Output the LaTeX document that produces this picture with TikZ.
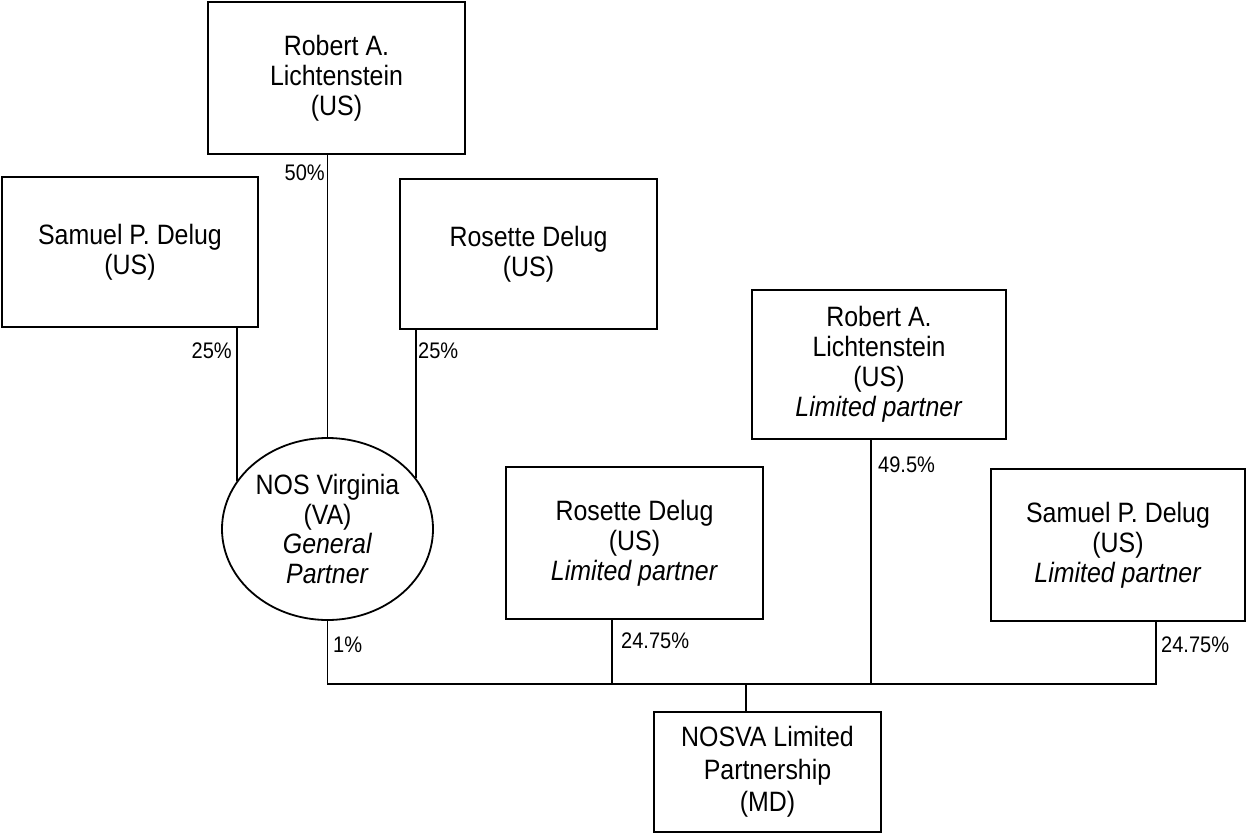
\documentclass[tikz,border=0pt]{standalone}
\usepackage{fontspec}
\setmainfont{Liberation Sans}[FakeStretch=0.89]
\usetikzlibrary{shapes.geometric}
\begin{document}
\begin{tikzpicture}[x=1pt,y=-1pt,
  entity/.style={draw,line width=1.8pt,rectangle,inner sep=0pt,align=center,
    font=\fontsize{28}{30}\selectfont},
  gpshape/.style={draw,line width=1.8pt,ellipse,inner sep=0pt,align=center,
    font=\fontsize{28}{29.5}\selectfont,minimum width=211pt,minimum height=182pt},
  pct/.style={font=\fontsize{22.5}{26}\selectfont,inner sep=0pt},
  link/.style={line width=1.8pt}]
\fill[white] (0,0) rectangle (1247,834);
\useasboundingbox (0,0) rectangle (1247,834);

% owners of the general partner
\node[entity,minimum width=257pt,minimum height=152pt] (robT) at (336.5,78)
  {Robert A.\\Lichtenstein\\(US)};
\node[entity,minimum width=256pt,minimum height=150pt] (samT) at (130,252)
  {Samuel P. Delug\\(US)};
\node[entity,minimum width=257pt,minimum height=150pt] (rosT) at (528.5,254)
  {Rosette Delug\\(US)};

% general partner
\node[gpshape] (gp) at (327.5,529)
  {NOS Virginia\\(VA)\\\textit{General}\\\textit{Partner}};

% limited partners
\node[entity,minimum width=254pt,minimum height=149pt] (robLP) at (879,364.5)
  {Robert A.\\Lichtenstein\\(US)\\\textit{Limited partner}};
\node[entity,minimum width=257pt,minimum height=152pt] (rosLP) at (634.5,543)
  {Rosette Delug\\(US)\\\textit{Limited partner}};
\node[entity,minimum width=254pt,minimum height=152pt] (samLP) at (1118,545)
  {Samuel P. Delug\\(US)\\\textit{Limited partner}};

% partnership
\node[entity,minimum width=227pt,minimum height=120pt,
  font=\fontsize{28}{32.5}\selectfont] (nosva) at (767.5,772)
  {NOSVA Limited\\Partnership\\(MD)};

% bus coordinates
\coordinate (bus) at (746,684);
\coordinate (rosX) at (612,684);
\coordinate (robX) at (871,684);
\coordinate (samX) at (1156,684);

% upper connectors
\draw[link] (robT.south -| gp.north) -- (gp.north);
\draw[link] (gp.152.67 |- samT.south) -- (gp.152.67);
\draw[link] (gp.30.16 |- rosT.south) -- (gp.30.16);

% lower connectors
\draw[link] (gp.south) |- (samX) -- (samLP.south -| samX);
\draw[link] (rosLP.south -| rosX) -- (rosX);
\draw[link] (robLP.south -| robX) -- (robX);
\draw[link] (bus) -- (nosva.north -| bus);

% percentages
\node[pct,anchor=east] (p50) at (325,173) {50\%};
\node[pct,anchor=east] (p25a) at (232,351) {25\%};
\node[pct,anchor=west] (p25b) at (418,351) {25\%};
\node[pct,anchor=west] (p1) at (333,645) {1\%};
\node[pct,anchor=west] (p2475a) at (621,641) {24.75\%};
\node[pct,anchor=west] (p495) at (878,465) {49.5\%};
\node[pct,anchor=west] (p2475b) at (1161,645) {24.75\%};
\end{tikzpicture}
\end{document}
